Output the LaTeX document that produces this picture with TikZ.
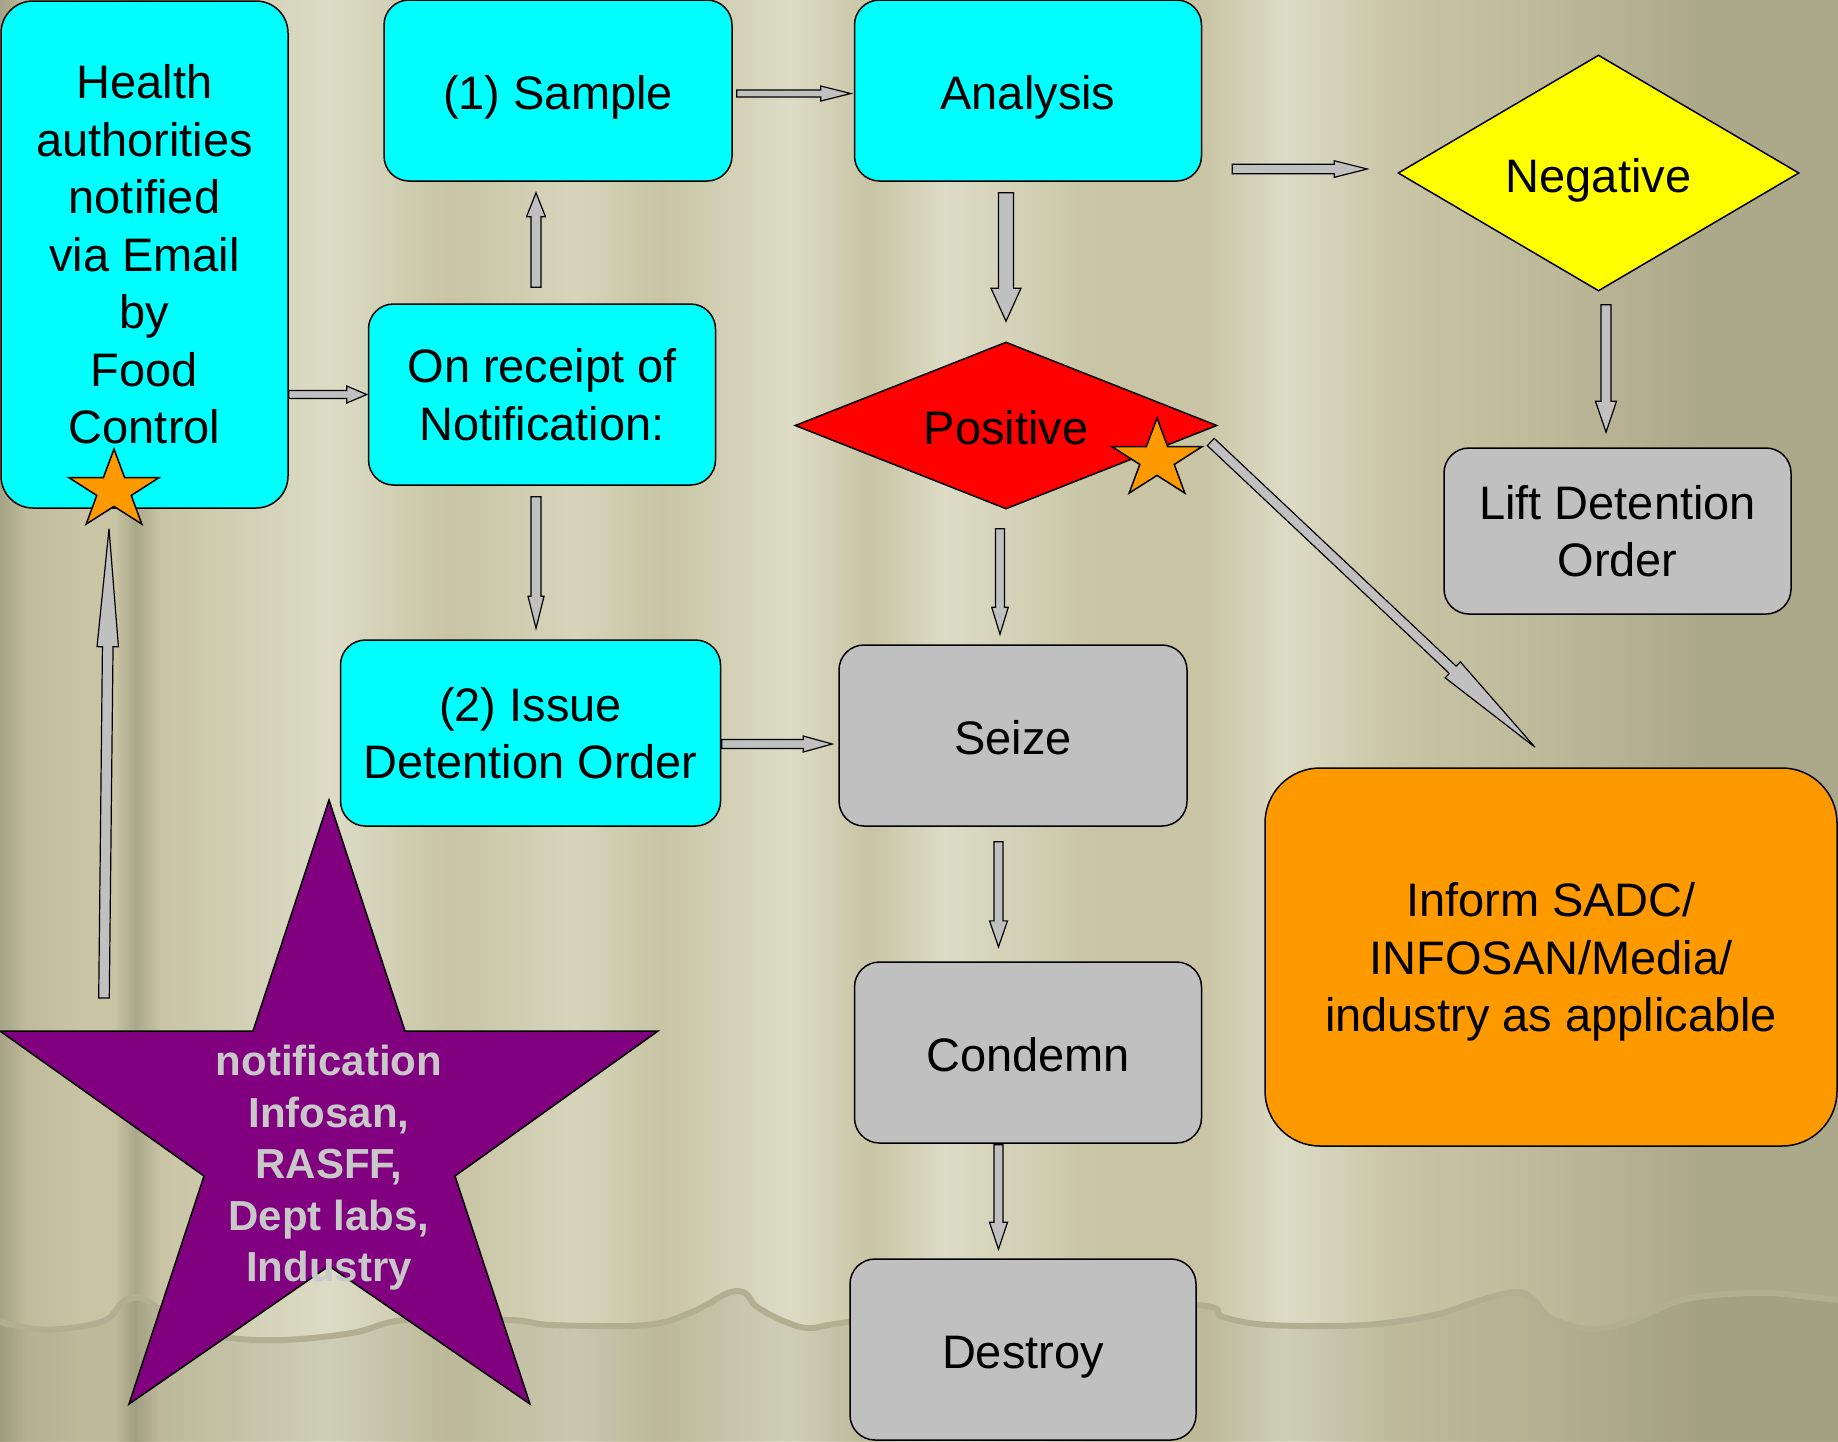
\documentclass[tikz,border=0pt]{standalone}
\usepackage{fontspec}
\setmainfont{Liberation Sans}
\usepackage{tikz}
\usetikzlibrary{positioning,%
  calc,%
  shapes.geometric
}

\definecolor{boxcyan}{HTML}{00FFFF}
\definecolor{boxgray}{HTML}{C0C0C0}
\definecolor{arrowgray}{HTML}{C0C0C0}
\definecolor{negyellow}{HTML}{FFFF00}
\definecolor{posred}{HTML}{FF0000}
\definecolor{infoorange}{HTML}{FF9900}
\definecolor{starpurple}{HTML}{800080}
\definecolor{starlabel}{HTML}{C8C8C8}
% curtain tones
\definecolor{cdk}{HTML}{A6A286}
\definecolor{cmd}{HTML}{BEBA9A}
\definecolor{cbs}{HTML}{C8C4A4}
\definecolor{cdf}{HTML}{A9A78A}
\definecolor{clt}{HTML}{DCDCC6}
\definecolor{clm}{HTML}{D6D5BC}
\definecolor{cdm}{HTML}{BCB898}
\definecolor{cdr}{HTML}{ACA88A}
\definecolor{floordark}{HTML}{6E6A50}
\definecolor{curtainedge}{HTML}{B2AE92}

\tikzset{
  flowbox/.style={draw, line width=1.5pt, rounded corners=25pt, align=center,
    inner sep=0pt, font=\fontsize{47pt}{57.5pt}\selectfont},
  cyanbox/.style={flowbox, fill=boxcyan},
  graybox/.style={flowbox, fill=boxgray},
  oneline/.style={text height=44pt, text depth=6pt},
  decision/.style={diamond, aspect=2.5, draw, line width=1.5pt, inner sep=0pt,
    oneline, font=\fontsize{47pt}{57.5pt}\selectfont},
  arrowbody/.style={fill=arrowgray, draw=black, line width=1.2pt, line join=miter},
  smallstar/.style={fill=infoorange, draw=black, line width=1.5pt},
  bigstar/.style={fill=starpurple, draw=black, line width=1.5pt, line join=miter},
  starcaption/.style={text=starlabel, align=center,
    font=\fontsize{42pt}{51.5pt}\selectfont\bfseries}
}

% tail, tip, shaft half width, head half width, head length
\newcommand{\blockarrow}[5]{%
  \coordinate (ba-t) at (#1);
  \coordinate (ba-p) at (#2);
  \coordinate (ba-h) at ($(ba-p)!#5pt!(ba-t)$);
  \filldraw[arrowbody] ($(ba-t)!#3pt!90:(ba-p)$) -- ($(ba-h)!#3pt!-90:(ba-t)$)
    -- ($(ba-h)!#4pt!-90:(ba-t)$) -- (ba-p) -- ($(ba-h)!#4pt!90:(ba-t)$)
    -- ($(ba-h)!#3pt!90:(ba-t)$) -- ($(ba-t)!#3pt!-90:(ba-p)$) -- cycle;
}

\begin{document}
\begin{tikzpicture}[x=1pt,y=-1pt]
  \useasboundingbox (0,0) rectangle (1838,1441);

  % curtain
  \foreach \xa/\xb/\ca/\cb in {0/25/cdk/cmd, 25/80/cmd/cbs, 80/115/cbs/cbs,
      115/135/cbs/cdf, 135/160/cdf/cbs, 160/330/cbs/clt, 330/450/clt/cbs,
      450/575/cbs/clm, 575/660/clm/cbs, 660/790/cbs/clt, 790/870/clt/cbs,
      870/945/cbs/clt, 945/1100/clt/cbs, 1100/1200/cbs/cbs, 1200/1285/cbs/clt,
      1285/1400/clt/cbs, 1400/1560/cbs/cdm, 1560/1700/cdm/cdr, 1700/1838/cdr/cdr}
    \shade[left color=\ca, right color=\cb] (\xa,0) rectangle ({\xb+0.6},1441);

  % floor
  \fill[floordark, fill opacity=.12] plot[smooth, tension=.6] coordinates {
      (0,1322) (35,1329) (70,1328) (106,1320) (123,1302) (141,1298) (161,1310)
      (190,1325) (223,1337) (282,1340) (352,1333) (405,1320) (510,1320)
      (552,1325) (646,1325) (692,1312) (728,1293) (745,1293) (757,1307)
      (786,1322) (810,1328) (848,1322) (1020,1300) (1197,1305) (1223,1317)
      (1270,1325) (1364,1325) (1434,1315) (1481,1300) (1517,1292) (1534,1300)
      (1549,1317) (1581,1328) (1605,1328) (1634,1320) (1675,1302) (1716,1295)
      (1769,1293) (1810,1297) (1838,1300)}
    -- (1838,1441) -- (0,1441) -- cycle;
  \draw[curtainedge, line width=6pt] plot[smooth, tension=.6] coordinates {
      (0,1322) (35,1329) (70,1328) (106,1320) (123,1302) (141,1298) (161,1310)
      (190,1325) (223,1337) (282,1340) (352,1333) (405,1320) (510,1320)
      (552,1325) (646,1325) (692,1312) (728,1293) (745,1293) (757,1307)
      (786,1322) (810,1328) (848,1322) (1020,1300) (1197,1305) (1223,1317)
      (1270,1325) (1364,1325) (1434,1315) (1481,1300) (1517,1292) (1534,1300)
      (1549,1317) (1581,1328) (1605,1328) (1634,1320) (1675,1302) (1716,1295)
      (1769,1293) (1810,1297) (1838,1300)};

  % boxes
  \node[cyanbox, rounded corners=32pt, minimum width=287pt, minimum height=507pt]
    (health) at (144.5,254.5) {Health\\authorities\\notified\\via Email\\by\\Food\\Control};
  \node[cyanbox, oneline, minimum width=348pt, minimum height=181pt] (sample) at (558,90.5) {(1) Sample};
  \node[cyanbox, oneline, minimum width=347pt, minimum height=181pt] (analysis) at (1028,90.5) {Analysis};
  \node[cyanbox, minimum width=347pt, minimum height=181pt] (receipt) at (542,394.5) {On receipt of\\Notification:};
  \node[cyanbox, minimum width=380pt, minimum height=186pt] (issue) at (530.5,733) {(2) Issue\\Detention Order};
  \node[graybox, oneline, minimum width=348pt, minimum height=181pt] (seize) at (1013,735.5) {Seize};
  \node[graybox, oneline, minimum width=347pt, minimum height=181pt] (condemn) at (1028,1052.5) {Condemn};
  \node[graybox, oneline, minimum width=346pt, minimum height=181pt] (destroy) at (1023,1349.5) {Destroy};
  \node[graybox, minimum width=347pt, minimum height=166pt] (lift) at (1617.5,531) {Lift Detention\\Order};
  \node[flowbox, fill=infoorange, rounded corners=55pt, minimum width=572pt, minimum height=378pt]
    (inform) at (1551,957) {Inform SADC/\\INFOSAN/Media/\\\raisebox{0pt}[\height][0pt]{industry as applicable}};
  \node[decision, fill=negyellow, minimum width=401pt, minimum height=236pt] (negative) at (1598.5,173) {Negative};
  \node[decision, fill=posred, minimum width=422pt, minimum height=167pt] (positive) at (1006,425.5) {Positive};

  % notification star
  \filldraw[bigstar] (329,800) -- (405,1031) -- (658,1031) -- (455,1176) -- (530,1404)
    -- (329,1266) -- (129,1404) -- (204,1176) -- (0,1031) -- (253,1031) -- cycle;
  \node[starcaption] (source) at (329,1168) {notification\\Infosan,\\RASFF,\\Dept labs,\\Industry};

  % arrows
  \blockarrow{$(sample.east)+(4,3)$}{$(analysis.west)+(-3,3)$}{3.5}{7.5}{30}
  \blockarrow{$(receipt.north)+(-6,-16)$}{$(sample.south)+(-22,11)$}{5}{9.5}{24}
  \blockarrow{health.east |- receipt.west}{$(receipt.west)+(-1,0)$}{4}{8.5}{20}
  \blockarrow{$(receipt.south)+(-6,11)$}{$(issue.north)+(5.5,-11)$}{5}{8}{32}
  \blockarrow{$(analysis.south)+(-22,11)$}{$(positive.north)+(0,-20)$}{7.5}{15}{33}
  \blockarrow{$(analysis.east)+(30,78.5)$}{$(negative.west)+(-30,-4)$}{4.75}{8.25}{33}
  \blockarrow{$(negative.south)+(7.5,13)$}{$(lift.north)+(-11.5,-15)$}{5}{10.5}{31}
  \blockarrow{$(positive.south)+(-6,19)$}{$(seize.north)+(-13,-10)$}{4.5}{8.3}{27}
  \blockarrow{$(positive.east)+(-7,16.5)$}{$(inform.north)+(-16,-20)$}{5}{11}{113}
  \blockarrow{$(issue.east)+(0.5,11)$}{$(seize.west)+(-6,8.5)$}{4.5}{8}{29}
  \blockarrow{$(seize.south)+(-14.5,15)$}{$(condemn.north)+(-29.5,-14.4)$}{4.5}{9}{26}
  \blockarrow{$(condemn.south)+(-29.5,1)$}{$(destroy.north)+(-24.5,-9)$}{4.5}{9}{27}
  \blockarrow{$(source)+(-225,-170)$}{$(health.south)+(-35.5,20)$}{5.3}{10.7}{118}

  % small stars
  \coordinate (hstar) at (114,490.5);
  \coordinate (pstar) at (1157,459.5);
  \foreach \c in {hstar,pstar} {
    \begin{scope}[shift={(\c)}, xscale=1.14]
      \filldraw[smallstar] (-90:41.5)
        \foreach \k in {1,...,9} { -- ({-90+36*\k}:{mod(\k,2)==1?15.9:41.5}) } -- cycle;
    \end{scope}
  }
\end{tikzpicture}
\end{document}
